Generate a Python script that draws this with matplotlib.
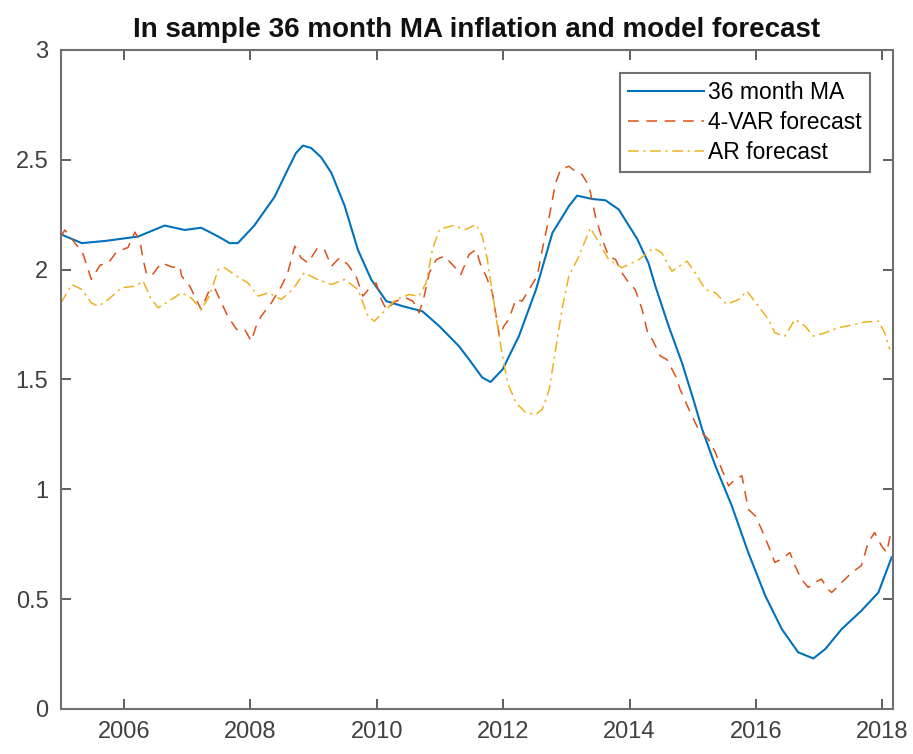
import matplotlib
matplotlib.use("Agg")
import matplotlib.pyplot as plt
import numpy as np

plt.rcParams['font.family'] = ['Liberation Sans', 'DejaVu Sans']

# 36 month moving average of inflation (decimal year, percent)
ma_t = [2005.00, 2005.33, 2005.70, 2005.96, 2006.22, 2006.64, 2006.96, 2007.22,
        2007.49, 2007.67, 2007.80, 2008.06, 2008.38, 2008.59, 2008.72, 2008.83,
        2008.96, 2009.12, 2009.28, 2009.49, 2009.70, 2009.91, 2010.15, 2010.41,
        2010.72, 2010.99, 2011.30, 2011.46, 2011.67, 2011.80, 2011.99, 2012.25,
        2012.52, 2012.78, 2013.04, 2013.17, 2013.41, 2013.62, 2013.83, 2014.12,
        2014.30, 2014.41, 2014.62, 2014.83, 2015.02, 2015.15, 2015.36, 2015.62,
        2015.88, 2016.15, 2016.41, 2016.67, 2016.91, 2017.10, 2017.36, 2017.67,
        2017.94, 2018.15]
ma_v = [2.16, 2.12, 2.13, 2.14, 2.15, 2.20, 2.18, 2.19,
        2.15, 2.12, 2.12, 2.20, 2.33, 2.455, 2.53, 2.564,
        2.553, 2.51, 2.44, 2.29, 2.09, 1.955, 1.856, 1.833,
        1.81, 1.742, 1.651, 1.591, 1.508, 1.488, 1.545, 1.697,
        1.909, 2.167, 2.288, 2.336, 2.321, 2.315, 2.273, 2.14,
        2.03, 1.924, 1.742, 1.576, 1.40, 1.273, 1.106, 0.924,
        0.712, 0.515, 0.364, 0.258, 0.23, 0.273, 0.364, 0.447,
        0.53, 0.69]

# 4-variable VAR in-sample forecast
var_t = [2005.00, 2005.06, 2005.25, 2005.35, 2005.43, 2005.48, 2005.62, 2005.75,
         2005.88, 2006.06, 2006.17, 2006.25, 2006.30, 2006.35, 2006.43, 2006.59,
         2006.77, 2006.88, 2006.91, 2007.04, 2007.14, 2007.22, 2007.33, 2007.43,
         2007.54, 2007.64, 2007.78, 2007.91, 2008.01, 2008.09, 2008.17, 2008.33,
         2008.49, 2008.59, 2008.70, 2008.80, 2008.91, 2009.06, 2009.17, 2009.28,
         2009.41, 2009.54, 2009.67, 2009.78, 2009.91, 2009.99, 2010.07, 2010.15,
         2010.30, 2010.46, 2010.57, 2010.67, 2010.75, 2010.83, 2010.94, 2011.07,
         2011.22, 2011.33, 2011.46, 2011.57, 2011.65, 2011.73, 2011.83, 2011.88,
         2011.94, 2012.01, 2012.09, 2012.20, 2012.30, 2012.41, 2012.54, 2012.62,
         2012.73, 2012.83, 2012.91, 2013.04, 2013.17, 2013.25, 2013.36, 2013.46,
         2013.57, 2013.67, 2013.78, 2013.88, 2013.99, 2014.09, 2014.20, 2014.30,
         2014.36, 2014.49, 2014.59, 2014.73, 2014.80, 2014.94, 2015.09, 2015.25,
         2015.36, 2015.46, 2015.57, 2015.67, 2015.78, 2015.88, 2015.99, 2016.09,
         2016.20, 2016.30, 2016.41, 2016.54, 2016.62, 2016.72, 2016.83, 2016.93,
         2017.04, 2017.14, 2017.20, 2017.36, 2017.52, 2017.67, 2017.78, 2017.88,
         2017.99, 2018.07, 2018.15]
var_v = [2.15, 2.18, 2.11, 2.07, 2.00, 1.955, 2.02, 2.03,
         2.08, 2.10, 2.17, 2.13, 2.045, 1.985, 1.97, 2.03,
         2.01, 2.015, 1.97, 1.924, 1.864, 1.818, 1.894, 1.917,
         1.848, 1.788, 1.727, 1.727, 1.674, 1.742, 1.788, 1.848,
         1.924, 1.985, 2.106, 2.053, 2.03, 2.098, 2.091, 2.015,
         2.053, 2.023, 1.97, 1.879, 1.924, 1.939, 1.864, 1.818,
         1.856, 1.871, 1.856, 1.803, 1.879, 1.985, 2.045, 2.061,
         2.015, 1.977, 2.068, 2.091, 2.015, 1.97, 1.894, 1.803,
         1.697, 1.742, 1.773, 1.864, 1.856, 1.909, 1.97, 2.091,
         2.242, 2.394, 2.455, 2.47, 2.44, 2.432, 2.379, 2.242,
         2.136, 2.061, 2.045, 1.985, 1.939, 1.909, 1.818, 1.697,
         1.682, 1.606, 1.591, 1.515, 1.455, 1.364, 1.273, 1.227,
         1.167, 1.091, 1.015, 1.045, 1.061, 0.909, 0.879, 0.818,
         0.742, 0.667, 0.682, 0.712, 0.652, 0.591, 0.553, 0.576,
         0.591, 0.545, 0.530, 0.576, 0.621, 0.652, 0.758, 0.803,
         0.742, 0.712, 0.818]

# univariate AR in-sample forecast
ar_t = [2005.00, 2005.17, 2005.33, 2005.48, 2005.59, 2005.75, 2005.96, 2006.17,
        2006.30, 2006.43, 2006.54, 2006.75, 2006.91, 2007.06, 2007.22, 2007.35,
        2007.49, 2007.59, 2007.78, 2007.96, 2008.12, 2008.28, 2008.49, 2008.67,
        2008.85, 2009.06, 2009.28, 2009.49, 2009.70, 2009.86, 2009.96, 2010.15,
        2010.30, 2010.51, 2010.67, 2010.78, 2010.88, 2010.99, 2011.20, 2011.41,
        2011.57, 2011.67, 2011.75, 2011.83, 2011.91, 2011.99, 2012.07, 2012.20,
        2012.36, 2012.52, 2012.62, 2012.73, 2012.83, 2012.94, 2013.04, 2013.20,
        2013.38, 2013.52, 2013.67, 2013.88, 2014.15, 2014.38, 2014.51, 2014.67,
        2014.91, 2015.04, 2015.20, 2015.36, 2015.54, 2015.73, 2015.86, 2016.04,
        2016.20, 2016.30, 2016.46, 2016.62, 2016.78, 2016.91, 2017.10, 2017.30,
        2017.57, 2017.73, 2017.94, 2018.04, 2018.12]
ar_v = [1.848, 1.932, 1.909, 1.848, 1.833, 1.864, 1.917, 1.924,
        1.947, 1.864, 1.826, 1.864, 1.894, 1.871, 1.818, 1.879,
        2.0, 2.008, 1.97, 1.939, 1.879, 1.894, 1.864, 1.909,
        1.985, 1.955, 1.932, 1.955, 1.909, 1.788, 1.765, 1.818,
        1.864, 1.886, 1.879, 1.939, 2.091, 2.182, 2.2, 2.182,
        2.205, 2.152, 2.045, 1.894, 1.742, 1.606, 1.485, 1.394,
        1.348, 1.341, 1.364, 1.455, 1.636, 1.833, 1.97, 2.061,
        2.189, 2.121, 2.045, 2.008, 2.045, 2.098, 2.076, 1.992,
        2.038, 1.985, 1.909, 1.894, 1.841, 1.864, 1.902, 1.833,
        1.773, 1.712, 1.697, 1.773, 1.742, 1.697, 1.712, 1.735,
        1.75, 1.761, 1.765, 1.712, 1.636]

x_ticks = [2006, 2008, 2010, 2012, 2014, 2016, 2018]
y_ticks = [0, 0.5, 1, 1.5, 2, 2.5, 3]

fig = plt.figure(figsize=(9.13, 7.54), dpi=100)
ax = fig.add_axes([0.0668, 0.0597, 0.9112, 0.8743])

ax.plot(ma_t, ma_v, color='#0072BD', lw=1.5, label='36 month MA')
ax.plot(var_t, var_v, color='#D95319', lw=1.1, linestyle=(0, (7, 5)),
        label='4-VAR forecast')
ax.plot(ar_t, ar_v, color='#EDB120', lw=1.1, linestyle=(0, (7, 3, 1.5, 3)),
        label='AR forecast')

ax.set_xlim(2005, 2018.17)
ax.set_ylim(0, 3)
ax.set_xticks(x_ticks)
ax.set_yticks(y_ticks)
ax.set_yticklabels(['0', '0.5', '1', '1.5', '2', '2.5', '3'])

ax.tick_params(direction='in', length=7, width=1.2, top=True, right=True,
               labelsize=17, colors='#444444', labelcolor='#404040')
ax.tick_params(axis='x', pad=9)
ax.tick_params(axis='y', pad=9)
for s in ax.spines.values():
    s.set_color('#707070')
    s.set_linewidth(1.5)

ax.set_title('In sample 36 month MA inflation and model forecast',
             fontsize=20, fontweight='bold', color='#111111', pad=9)

leg = ax.legend(loc='upper right', fontsize=16.5, handlelength=3.3,
                handletextpad=0.2, labelspacing=0.32, borderaxespad=1.0,
                borderpad=0.35, fancybox=False, framealpha=1,
                edgecolor='#707070')
leg.get_frame().set_linewidth(1.5)

fig.savefig('out.png', dpi=100)
